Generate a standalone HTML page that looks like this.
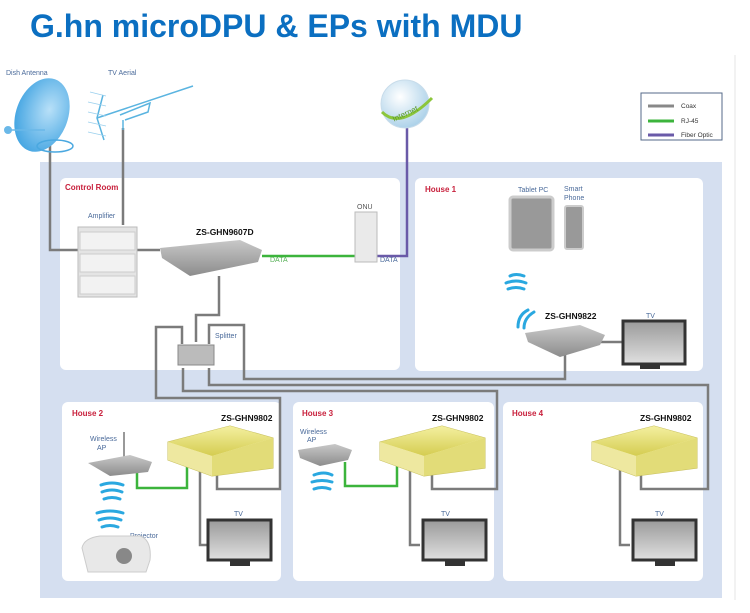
<!DOCTYPE html>
<html><head><meta charset="utf-8"><style>
html,body{margin:0;padding:0;background:#fff;width:750px;height:613px;overflow:hidden}
svg{display:block;font-family:"Liberation Sans",sans-serif}
</style></head><body>
<svg width="750" height="613" viewBox="0 0 750 613" xmlns="http://www.w3.org/2000/svg">
<defs>
<linearGradient id="gy" x1="0" y1="0" x2="0" y2="1"><stop offset="0" stop-color="#f4f0a0"/><stop offset="1" stop-color="#d4cc50"/></linearGradient>
<linearGradient id="gr" x1="0" y1="0" x2="0" y2="1"><stop offset="0" stop-color="#c8c8c8"/><stop offset="1" stop-color="#8c8c8c"/></linearGradient>
<linearGradient id="tv" x1="0" y1="0" x2="0" y2="1"><stop offset="0" stop-color="#9a9a9a"/><stop offset="1" stop-color="#e0e0e0"/></linearGradient>
<radialGradient id="gl" cx="0.4" cy="0.35" r="0.7"><stop offset="0" stop-color="#ffffff"/><stop offset="1" stop-color="#a8cfe8"/></radialGradient>
<radialGradient id="dish" cx="0.6" cy="0.4" r="0.7"><stop offset="0" stop-color="#b8e0f8"/><stop offset="1" stop-color="#3aa0e0"/></radialGradient>
<g id="ym">
<path d="M0 18 L62 2 L105 14 L105 44 L44 52 L0 36 Z" fill="#f6f2b8" stroke="#c8c060"/>
<path d="M0 18 L62 2 L105 14 L44 32 Z" fill="url(#gy)"/>
<path d="M0 18 L44 32 L44 52 L0 36 Z" fill="#eee8a0"/>
<path d="M44 32 L105 14 L105 44 L44 52 Z" fill="#e2dc78"/>
</g>
</defs>
<text x="30" y="37" font-size="32" font-weight="bold" fill="#0b6fc1">G.hn microDPU &amp; EPs with MDU</text>
<line x1="735" y1="55" x2="735" y2="600" stroke="#e6e6e6" stroke-width="1"/>
<rect x="40" y="162" width="682" height="436" fill="#d5dff0"/>
<rect x="60" y="178" width="340" height="192" rx="6" fill="#fff"/>
<rect x="415" y="178" width="288" height="193" rx="6" fill="#fff"/>
<rect x="62" y="402" width="219" height="179" rx="6" fill="#fff"/>
<rect x="293" y="402" width="201" height="179" rx="6" fill="#fff"/>
<rect x="503" y="402" width="200" height="179" rx="6" fill="#fff"/>
<rect x="641" y="93" width="81" height="47" fill="#fff" stroke="#556a88" stroke-width="1"/>
<line x1="648" y1="106" x2="674" y2="106" stroke="#888" stroke-width="3"/>
<line x1="648" y1="121" x2="674" y2="121" stroke="#3cb43c" stroke-width="3"/>
<line x1="648" y1="135" x2="674" y2="135" stroke="#6a5aa8" stroke-width="3"/>
<g font-size="6.5" fill="#333"><text x="681" y="108">Coax</text><text x="681" y="123">RJ-45</text><text x="681" y="137">Fiber Optic</text></g>
<g font-size="8" font-weight="bold" fill="#c8203c">
<text x="65" y="190">Control Room</text><text x="425" y="192">House 1</text>
<text x="72" y="416">House 2</text><text x="302" y="416">House 3</text><text x="512" y="416">House 4</text></g>
<g font-size="7" fill="#4a6a9a">
<text x="6" y="75">Dish Antenna</text><text x="108" y="75">TV Aerial</text>
<text x="88" y="218">Amplifier</text><text x="215" y="338">Splitter</text>
<text x="357" y="209" fill="#555">ONU</text>
<text x="518" y="192">Tablet PC</text><text x="564" y="191">Smart</text><text x="564" y="200">Phone</text>
<text x="646" y="318">TV</text>
<text x="90" y="441">Wireless</text><text x="97" y="450">AP</text>
<text x="130" y="538">Projector</text><text x="234" y="516">TV</text>
<text x="300" y="434">Wireless</text><text x="307" y="442">AP</text>
<text x="441" y="516">TV</text><text x="655" y="516">TV</text>
<text x="270" y="262" fill="#58b058">DATA</text><text x="380" y="262">DATA</text>
</g>
<g fill="none" stroke="#7b7b7b" stroke-width="2.5">
<polyline points="50,140 50,250 80,250"/>
<polyline points="137,250 160,250"/>
<polyline points="219,276 219,315 196,315 196,342"/>
<polyline points="182,344 182,327 156,327 156,398 280,398 280,489 217,489 217,463"/>
<polyline points="183,368 183,391 497,391 497,489 432,489 432,463"/>
<polyline points="209,368 209,385 708,385 708,489 641,489 641,463"/>
<polyline points="209,344 209,325 244,325 244,379 565,379 565,352"/>
<polyline points="200,470 200,545 210,545"/>
<polyline points="410,470 410,545 420,545"/>
<polyline points="620,470 620,545 630,545"/>
<polyline points="600,342 625,342"/>
</g>
<polyline points="123,128 123,225" fill="none" stroke="#7b7b7b" stroke-width="2.5"/>
<polyline points="262,256 355,256" fill="none" stroke="#3cb43c" stroke-width="2.5"/>
<polyline points="377,256 407,256 407,128" fill="none" stroke="#6a5aa8" stroke-width="2.5"/>
<polyline points="137,472 137,488 187,488 187,460" fill="none" stroke="#3cb43c" stroke-width="2.5"/>
<polyline points="345,462 345,486 397,486 397,460" fill="none" stroke="#3cb43c" stroke-width="2.5"/>
<ellipse cx="42" cy="115" rx="26" ry="38" transform="rotate(20 42 115)" fill="url(#dish)"/>
<line x1="10" y1="130" x2="45" y2="130" stroke="#6ab8e8" stroke-width="1.5"/>
<circle cx="8" cy="130" r="4" fill="#6ab8e8"/>
<ellipse cx="55" cy="146" rx="18" ry="6" fill="none" stroke="#4aa8e0" stroke-width="1.5"/>
<g stroke="#5ab4e0" stroke-width="1.5" fill="none">
<line x1="97" y1="118" x2="193" y2="86"/><polyline points="103,95 97,118 104,140"/>
<polyline points="120,115 150,103 148,112 125,120"/><line x1="123" y1="120" x2="123" y2="130"/>
</g>
<g stroke="#9ad0ee" stroke-width="0.8">
<line x1="90" y1="92" x2="106" y2="96"/><line x1="88" y1="102" x2="106" y2="106"/><line x1="88" y1="112" x2="106" y2="116"/><line x1="88" y1="122" x2="106" y2="126"/><line x1="88" y1="132" x2="106" y2="136"/>
</g>
<circle cx="405" cy="104" r="24" fill="url(#gl)" stroke="#c8dcea"/>
<path d="M382 112 Q400 130 432 98" stroke="#8cc63c" stroke-width="3" fill="none"/>
<text x="390" y="116" font-size="8" fill="#5a9a2a" transform="rotate(-25 405 110)">Internet</text>
<rect x="78" y="227" width="59" height="70" fill="#e4e4e4" stroke="#bbb"/>
<rect x="80" y="232" width="55" height="18" fill="#f2f2f2" stroke="#ccc"/>
<rect x="80" y="254" width="55" height="18" fill="#f2f2f2" stroke="#ccc"/>
<rect x="80" y="276" width="55" height="18" fill="#f2f2f2" stroke="#ccc"/>
<path d="M160 248 L240 240 L262 250 L258 262 L190 276 L162 258 Z" fill="url(#gr)"/>
<rect x="355" y="212" width="22" height="50" fill="#eaeaea" stroke="#bbb"/>
<rect x="178" y="345" width="36" height="20" fill="#bbb" stroke="#888"/>
<rect x="510" y="197" width="43" height="53" rx="3" fill="#999" stroke="#ccc" stroke-width="3"/>
<rect x="565" y="206" width="18" height="43" rx="2" fill="#999" stroke="#ccc" stroke-width="2"/>
<g fill="none" stroke="#2aa8e0" stroke-width="3" stroke-linecap="round">
<path d="M506 283 Q516 279 526 283"/><path d="M508 289 Q516 286 524 289"/><path d="M510 276 Q516 273 524 276"/>
<path d="M528 310 Q518 315 518 327"/><path d="M534 312 Q524 318 524 328"/>
</g>
<path d="M525 333 L580 325 L605 335 L600 345 L560 357 L528 342 Z" fill="url(#gr)"/>
<rect x="623" y="321" width="62" height="43" fill="url(#tv)" stroke="#333" stroke-width="3"/>
<use href="#ym" x="168" y="424"/>
<rect x="208" y="520" width="63" height="40" fill="url(#tv)" stroke="#333" stroke-width="3"/>
<rect x="230" y="560" width="20" height="6" fill="#333"/>
<line x1="124" y1="432" x2="124" y2="458" stroke="#777" stroke-width="1.5"/>
<path d="M88 463 L130 455 L152 462 L148 472 L110 476 Z" fill="url(#gr)"/>
<g fill="none" stroke="#2aa8e0" stroke-width="3" stroke-linecap="round">
<path d="M102 492 Q112 488 122 492"/><path d="M104 499 Q112 496 120 499"/><path d="M101 485 Q112 481 123 485"/>
<path d="M99 520 Q110 516 121 520"/><path d="M102 527 Q110 524 118 527"/><path d="M97 513 Q110 509 123 513"/>
</g>
<path d="M82 548 Q84 538 100 536 L140 536 Q152 540 150 560 L146 572 L88 572 Z" fill="#e8e8e8" stroke="#ccc"/>
<circle cx="124" cy="556" r="8" fill="#888"/>
<use href="#ym" x="380" y="424"/>
<path d="M298 450 L335 444 L352 450 L348 460 L320 466 L300 458 Z" fill="url(#gr)"/>
<g fill="none" stroke="#2aa8e0" stroke-width="3" stroke-linecap="round">
<path d="M314 475 Q324 471 332 475"/><path d="M312 482 Q322 479 332 482"/><path d="M314 489 Q322 486 330 489"/></g>
<rect x="423" y="520" width="63" height="40" fill="url(#tv)" stroke="#333" stroke-width="3"/>
<rect x="445" y="560" width="20" height="6" fill="#333"/>
<use href="#ym" x="592" y="424"/>
<rect x="633" y="520" width="63" height="40" fill="url(#tv)" stroke="#333" stroke-width="3"/>
<rect x="655" y="560" width="20" height="6" fill="#333"/>
<rect x="640" y="364" width="20" height="5" fill="#333"/>
<g font-size="8.5" font-weight="bold" fill="#111">
<text x="196" y="235">ZS-GHN9607D</text><text x="545" y="319">ZS-GHN9822</text>
<text x="221" y="421">ZS-GHN9802</text><text x="432" y="421">ZS-GHN9802</text><text x="640" y="421">ZS-GHN9802</text></g>
</svg>
</body></html>
